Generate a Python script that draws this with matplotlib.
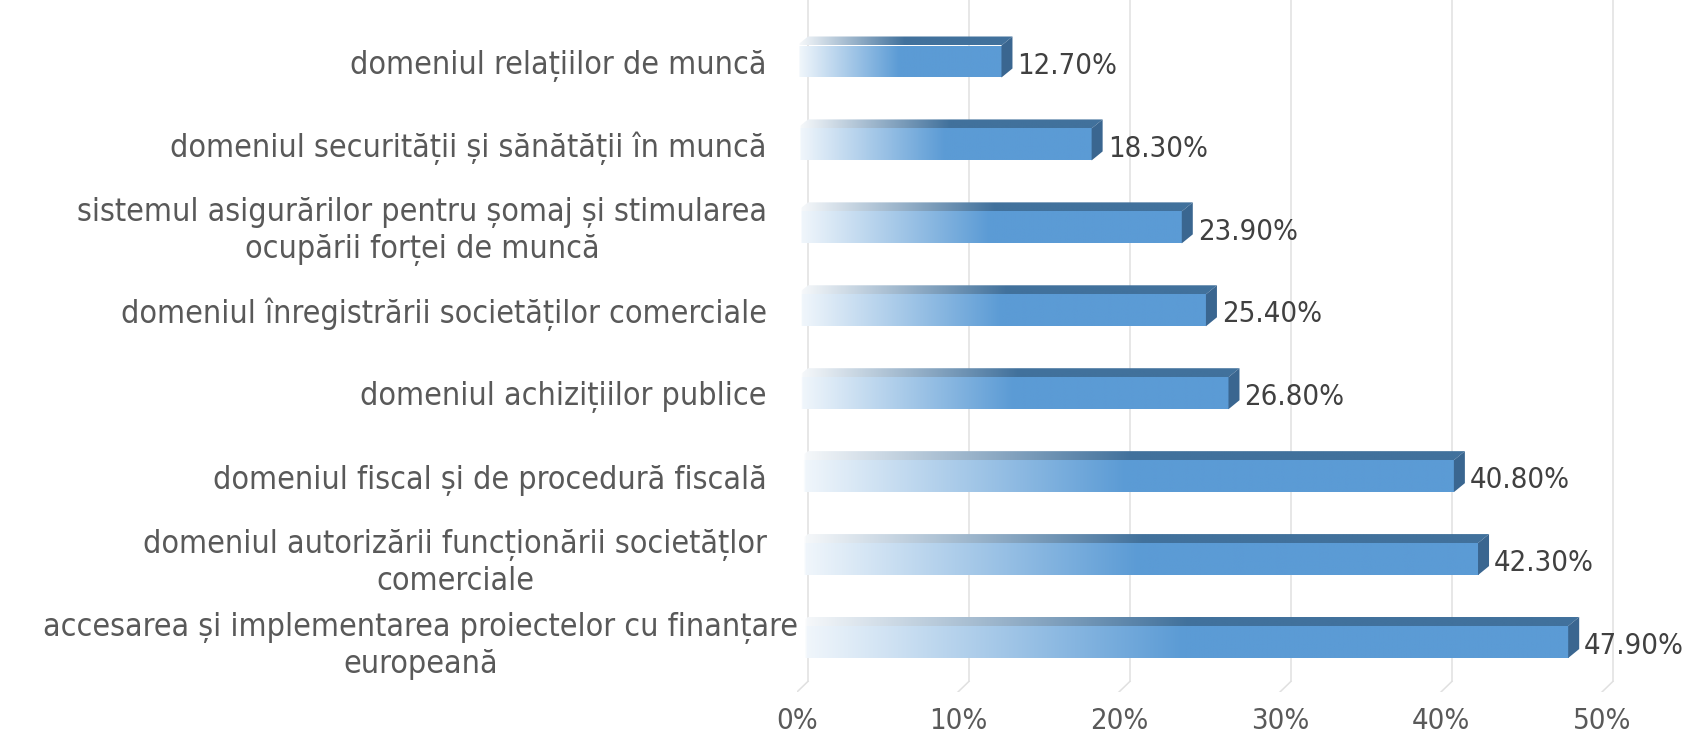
import numpy as np
import matplotlib
matplotlib.use("Agg")
import matplotlib.pyplot as plt
from matplotlib.patches import Polygon, Rectangle
from matplotlib.colors import to_rgb

categories = [
    "domeniul relațiilor de muncă",
    "domeniul securității și sănătății în muncă",
    "sistemul asigurărilor pentru șomaj și stimularea\nocupării forței de muncă",
    "domeniul înregistrării societăților comerciale",
    "domeniul achizițiilor publice",
    "domeniul fiscal și de procedură fiscală",
    "domeniul autorizării funcționării societățlor\ncomerciale",
    "accesarea și implementarea proiectelor cu finanțare\neuropeană",
]
values = [12.7, 18.3, 23.9, 25.4, 26.8, 40.8, 42.3, 47.9]
xticks = [0, 10, 20, 30, 40, 50]
xtick_labels = ["0%", "10%", "20%", "30%", "40%", "50%"]

FONT = dict(family="DejaVu Sans", stretch="condensed")
W, H = 1686, 737
fig = plt.figure(figsize=(W / 100, H / 100), dpi=100)

# pixel layout of the plot area (front plane)
x0_px, px_per_unit = 797, 16.1
top_px, bot_px = 0, 692
c0_px, step_px = 61.5, 82.93
ax = fig.add_axes([x0_px / W, 1 - bot_px / H, 1 - x0_px / W, (bot_px - top_px) / H])
ax.set_xlim(0, (W - x0_px) / px_per_unit)
ax.set_ylim((bot_px - c0_px) / step_px, (top_px - c0_px) / step_px)
for s in ax.spines.values():
    s.set_visible(False)
ax.set_yticks([])
ax.set_xticks(xticks)
ax.set_xticklabels(xtick_labels, fontsize=21, color="#595959", **FONT)
ax.tick_params(axis="x", length=0, pad=11)

dx = 11 / px_per_unit      # depth offset, x
dy = -9 / step_px          # depth offset, y (up)
h = 32 / step_px           # front face height
floor = ax.get_ylim()[0]

# back-wall gridlines and floor stubs
for t in xticks:
    ax.plot([t + dx, t + dx], [floor + dy - 0.02, ax.get_ylim()[1]], color="#E0E0E0", lw=1.1, zorder=1)
    ax.plot([t + dx, t], [floor + dy - 0.02, floor], color="#E0E0E0", lw=1.1, zorder=1)

front_c = np.array(to_rgb("#5B9BD5"))
top_c = np.array(to_rgb("#41719C"))
side_c = "#3A6690"
white = np.array([1.0, 1.0, 1.0])


def grad(col, n=256, start=0.9):
    t = np.linspace(0, 1, n)
    k = np.clip(t / 0.5, 0, 1)
    k = 1 - (1 - k) * start
    k = np.where(t < 0.01, 0.0, k)[:, None]
    rgb = white * (1 - k) + col * k
    return rgb[None, :, :]


for i, v in enumerate(values):
    yt, yb = i - h / 2, i + h / 2
    # front face
    rect = Rectangle((0, yt), v, h, facecolor="none", edgecolor="none")
    ax.add_patch(rect)
    im = ax.imshow(grad(front_c, start=0.93), extent=[0, v, yb, yt], aspect="auto", zorder=3,
                   interpolation="bilinear")
    im.set_clip_path(rect)
    # top face
    top = Polygon([(0, yt), (v, yt), (v + dx, yt + dy), (dx, yt + dy)], closed=True,
                  facecolor="none", edgecolor="none")
    ax.add_patch(top)
    im2 = ax.imshow(grad(top_c, start=0.97), extent=[0, v + dx, yt, yt + dy], aspect="auto", zorder=3,
                    interpolation="bilinear")
    im2.set_clip_path(top)
    # side face
    ax.add_patch(Polygon([(v, yt), (v, yb), (v + dx, yb + dy), (v + dx, yt + dy)], closed=True,
                         facecolor=side_c, edgecolor="none", zorder=3))
    ax.text(v + dx + 5 / px_per_unit, i + 0.05, f"{v:.2f}%", ha="left", va="center",
            fontsize=21, color="#404040", zorder=5, **FONT)

# category labels
lab_x = (767 - x0_px) / (W - x0_px)
for i, c in enumerate(categories):
    x = lab_x if i < len(categories) - 1 else (798 - x0_px) / (W - x0_px)
    ax.text(x, i + 0.05, c, transform=ax.get_yaxis_transform(), ha="right", va="center",
            multialignment="center", fontsize=23, color="#595959", linespacing=1.22, **FONT)

fig.savefig("out.png", dpi=100)
